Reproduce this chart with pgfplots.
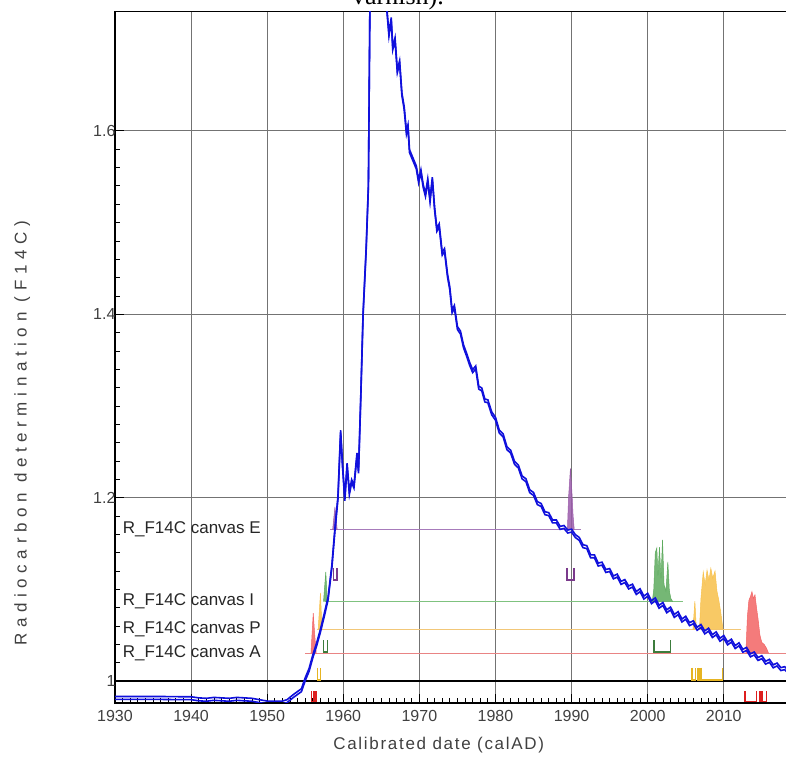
\documentclass[border=0pt]{standalone}
\usepackage{pgfplots}
\pgfplotsset{compat=1.18}
\usepackage{pgfplotstable}
\usepackage{fontspec}
\setmainfont{Liberation Sans}
\newfontfamily\serifcap{Liberation Serif}

\definecolor{cblue}{HTML}{1010DC}
\definecolor{pfill}{HTML}{9A5BAA}\definecolor{pline}{HTML}{A77BBB}\definecolor{pbr}{HTML}{7B3A8C}
\definecolor{gfill}{HTML}{5DAA5D}\definecolor{gline}{HTML}{7FC27F}\definecolor{gbr}{HTML}{3C7C3C}
\definecolor{ofill}{HTML}{F7C04A}\definecolor{oline}{HTML}{F2C778}\definecolor{obr}{HTML}{E6B422}
\definecolor{rfill}{HTML}{F26464}\definecolor{rline}{HTML}{E98484}\definecolor{rbr}{HTML}{DD1E1E}
\definecolor{tickgray}{HTML}{404040}

\pgfplotstableread{
t f
1930 0.9815
1933 0.9815
1936 0.9815
1939 0.9812
1940 0.9812
1941 0.9800
1942 0.9795
1943 0.9805
1944 0.9800
1945 0.9795
1946 0.9805
1947 0.9800
1948 0.9795
1949 0.9780
1950 0.9765
1951 0.9765
1952 0.9765
1952.6 0.978
1953.5 0.984
1954.5 0.990
1955.0 1.002
1955.5 1.012
1956.0 1.027
1956.5 1.040
1957.0 1.055
1957.5 1.072
1958.0 1.090
1958.5 1.125
1958.9 1.165
1959.3 1.200
1959.65 1.272
1959.9 1.235
1960.2 1.198
1960.5 1.236
1960.8 1.205
1961.1 1.218
1961.4 1.212
1961.8 1.247
1962.0 1.228
1962.3 1.310
1962.6 1.400
1963.0 1.470
1963.3 1.540
1963.5 1.740
1963.8 1.850
1964.3 1.900
1965.0 1.860
1965.7 1.735
1966.0 1.705
1966.3 1.722
1966.5 1.690
1966.8 1.700
1967.1 1.665
1967.4 1.675
1967.7 1.640
1968.0 1.625
1968.3 1.598
1968.5 1.605
1968.7 1.578
1969.0 1.572
1969.3 1.566
1969.6 1.560
1969.9 1.545
1970.2 1.556
1970.5 1.540
1970.8 1.530
1971.1 1.546
1971.4 1.524
1971.7 1.548
1972.0 1.515
1972.3 1.492
1972.6 1.497
1973.0 1.466
1973.3 1.470
1973.7 1.442
1974.0 1.428
1974.3 1.403
1974.6 1.408
1975.0 1.385
1975.4 1.380
1975.8 1.365
1976.2 1.356
1976.6 1.346
1977.0 1.338
1977.4 1.342
1977.8 1.320
1978.2 1.318
1978.6 1.306
1979.0 1.305
1979.5 1.292
1980.0 1.286
1980.5 1.272
1981.0 1.268
1981.5 1.254
1982.0 1.250
1982.5 1.238
1983.0 1.234
1983.5 1.222
1984.0 1.219
1984.5 1.207
1985.0 1.204
1985.5 1.194
1986.0 1.192
1986.5 1.183
1987.0 1.182
1987.5 1.174
1988.0 1.174
1988.5 1.167
1989.0 1.168
1989.5 1.163
1990.0 1.164
1990.5 1.158
1991.0 1.155
1991.5 1.147
1992.0 1.146
1992.5 1.136
1993.0 1.136
1993.5 1.127
1994.0 1.128
1994.5 1.120
1995.0 1.121
1995.5 1.113
1996.0 1.115
1996.5 1.107
1997.0 1.109
1997.5 1.102
1998.0 1.104
1998.5 1.096
1999.0 1.099
1999.5 1.091
2000.0 1.094
2000.5 1.086
2001.0 1.089
2001.5 1.081
2002.0 1.084
2002.5 1.076
2003.0 1.079
2003.5 1.071
2004.0 1.074
2004.5 1.066
2005.0 1.069
2005.5 1.062
2006.0 1.064
2006.5 1.057
2007.0 1.060
2007.5 1.053
2008.0 1.056
2008.5 1.049
2009.0 1.052
2009.5 1.045
2010.0 1.048
2010.5 1.041
2011.0 1.044
2011.5 1.037
2012.0 1.040
2012.5 1.033
2013.0 1.035
2013.5 1.028
2014.0 1.030
2014.5 1.024
2015.0 1.026
2015.5 1.020
2016.0 1.022
2016.5 1.016
2017.0 1.018
2017.5 1.013
2018.0 1.014
2018.5 1.010
}\curve

\begin{document}
\begin{tikzpicture}
\useasboundingbox (0,0) rectangle (786bp,760bp);
\node[anchor=base, font=\serifcap\fontsize{26bp}{30bp}\selectfont] at (398bp,755bp) {varnish).};
\begin{axis}[
  at={(115bp,57bp)}, anchor=south west,
  scale only axis, width=673bp, height=691.3bp,
  xmin=1930, xmax=2018.44, ymin=0.976, ymax=1.730,
  xtick={1930,1940,...,2010}, minor x tick num=9,
  ytick={1,1.2,1.4,1.6}, yticklabels={1,1.2,1.4,1.6}, minor y tick num=9,
  xtick pos=left, ytick pos=left,
  tick align=inside, major tick length=9bp, minor tick length=4.5bp,
  grid=major, major grid style={draw=black!55, line width=1bp},
  axis line style={line width=1.4bp, black},
  tick style={black, line width=0.8bp},
  /pgf/number format/assume math mode=true,
  x tick label style={/pgf/number format/1000 sep={}, font=\fontsize{16bp}{18bp}\selectfont, text=tickgray, yshift=-4bp},
  y tick label style={font=\fontsize{16bp}{18bp}\selectfont, text=tickgray, xshift=4bp},
  xlabel={\addfontfeature{LetterSpace=10}Calibrated date (calAD)},
  xlabel style={at={(axis description cs:0.481,0)}, anchor=center, yshift=-42bp, font=\fontsize{17bp}{20bp}\selectfont, text=tickgray},
  ylabel={\addfontfeature{LetterSpace=33}Radiocarbon determination (F14C)},
  ylabel style={at={(axis description cs:-0.138,0.39)}, anchor=center, font=\fontsize{17bp}{20bp}\selectfont, text=tickgray},
  clip=true,
]
% y = 1 line
\addplot[black, line width=1.2bp] coordinates {(1930,1) (2019,1)};
% sample value lines
\addplot[pline, line width=1bp] coordinates {(1958.3,1.165) (1991.3,1.165)};
\addplot[gline, line width=1bp] coordinates {(1957.6,1.0865) (2004.7,1.0865)};
\addplot[oline, line width=1bp] coordinates {(1956.5,1.0564) (2012.2,1.0564)};
\addplot[rline, line width=1bp] coordinates {(1955.0,1.030) (2019,1.030)};
% distributions
\addplot[draw=pfill, fill=pfill, fill opacity=0.85, line width=0.5bp] coordinates {(1958.6,1.165) (1958.9,1.19) (1959.2,1.165)};
\addplot[draw=pfill, fill=pfill, fill opacity=0.85, line width=0.5bp] coordinates {(1989.45,1.165) (1989.6,1.20) (1989.85,1.232) (1990.05,1.205) (1990.2,1.18) (1990.35,1.165)};
\addplot[draw=gfill, fill=gfill, fill opacity=0.85, line width=0.5bp] coordinates {(1957.4,1.0865) (1957.7,1.119) (1957.9,1.0865)};
\addplot[draw=gfill, fill=gfill, fill opacity=0.85, line width=0.5bp] coordinates {(2000.6,1.0865) (2000.8,1.100) (2001.0,1.140) (2001.2,1.145) (2001.35,1.115) (2001.55,1.146) (2001.75,1.112) (2001.95,1.154) (2002.15,1.105) (2002.4,1.098) (2002.65,1.130) (2002.85,1.098) (2003.05,1.090) (2003.3,1.0865)};
\addplot[draw=ofill, fill=ofill, fill opacity=0.85, line width=0.5bp] coordinates {(1956.7,1.0564) (1957.0,1.096) (1957.2,1.0564)};
\addplot[draw=ofill, fill=ofill, fill opacity=0.85, line width=0.5bp] coordinates {(2005.95,1.0564) (2006.2,1.087) (2006.4,1.0564)};
\addplot[draw=ofill, fill=ofill, fill opacity=0.85, line width=0.5bp] coordinates {(2006.8,1.0564) (2007.0,1.090) (2007.3,1.119) (2007.55,1.105) (2007.8,1.121) (2008.05,1.110) (2008.3,1.123) (2008.55,1.112) (2008.85,1.120) (2009.1,1.098) (2009.35,1.088) (2009.6,1.075) (2009.9,1.0564)};
\addplot[draw=rfill, fill=rfill, fill opacity=0.85, line width=0.5bp] coordinates {(1955.75,1.030) (1956.05,1.074) (1956.25,1.050) (1956.45,1.030)};
\addplot[draw=rfill, fill=rfill, fill opacity=0.85, line width=0.5bp] coordinates {(2012.9,1.030) (2013.1,1.070) (2013.3,1.088) (2013.5,1.092) (2013.7,1.0975) (2013.9,1.090) (2014.1,1.094) (2014.3,1.080) (2014.5,1.068) (2014.75,1.050) (2015.0,1.042) (2015.3,1.040) (2015.6,1.036) (2015.9,1.030)};
% calibration curve (double line)
\addplot[cblue, line width=1.6bp] table[x=t, y expr=\thisrow{f}+0.0016] {\curve};
\addplot[cblue, line width=1.6bp] table[x=t, y expr=\thisrow{f}-0.0016] {\curve};
% ranges
\addplot[pbr, line width=1.5bp] coordinates {(1958.7,1.1233) (1958.7,1.110) (1959.2,1.110) (1959.2,1.1233)};
\addplot[pbr, line width=1.5bp] coordinates {(1989.4,1.1233) (1989.4,1.110) (1990.3,1.110) (1990.3,1.1233)};
\addplot[gbr, line width=1.5bp] coordinates {(1957.4,1.0447) (1957.4,1.0316) (1957.9,1.0316) (1957.9,1.0447)};
\addplot[gbr, line width=1.5bp] coordinates {(2000.8,1.0447) (2000.8,1.0316) (2003.0,1.0316) (2003.0,1.0447)};
\addplot[obr, line width=1.5bp] coordinates {(1956.6,1.0145) (1956.6,1.001) (1957.0,1.001) (1957.0,1.0145)};
\addplot[obr, line width=1.5bp] coordinates {(2005.8,1.0145) (2005.8,1.001) (2006.3,1.001) (2006.3,1.0145)};
\addplot[obr, line width=1.5bp] coordinates {(2006.6,1.0145) (2006.6,1.001) (2006.8,1.001) (2006.8,1.0145)};
\addplot[obr, line width=1.5bp] coordinates {(2007.0,1.0145) (2007.0,1.001) (2009.8,1.001) (2009.8,1.0145)};
\addplot[rbr, line width=1.5bp] coordinates {(1955.8,0.989) (1955.8,0.9775) (1956.1,0.9775) (1956.1,0.989)};
\addplot[rbr, line width=1.5bp] coordinates {(1956.3,0.989) (1956.3,0.9775) (1956.5,0.9775) (1956.5,0.989)};
\addplot[rbr, line width=1.5bp] coordinates {(2012.8,0.989) (2012.8,0.9775) (2014.3,0.9775) (2014.3,0.989)};
\addplot[rbr, line width=1.5bp] coordinates {(2014.7,0.989) (2014.7,0.9775) (2014.9,0.9775) (2014.9,0.989)};
\addplot[rbr, line width=1.5bp] coordinates {(2015.1,0.989) (2015.1,0.9775) (2015.6,0.9775) (2015.6,0.989)};
% sample labels
\node[anchor=west, font=\fontsize{17bp}{20bp}\selectfont, text=black!85, inner sep=0pt] at (axis cs:1931.0,1.165) {R\_F14C canvas E};
\node[anchor=west, font=\fontsize{17bp}{20bp}\selectfont, text=black!85, inner sep=0pt] at (axis cs:1931.0,1.0865) {R\_F14C canvas I};
\node[anchor=west, font=\fontsize{17bp}{20bp}\selectfont, text=black!85, inner sep=0pt] at (axis cs:1931.0,1.0564) {R\_F14C canvas P};
\node[anchor=west, font=\fontsize{17bp}{20bp}\selectfont, text=black!85, inner sep=0pt] at (axis cs:1931.0,1.030) {R\_F14C canvas A};
\end{axis}
\end{tikzpicture}
\end{document}
